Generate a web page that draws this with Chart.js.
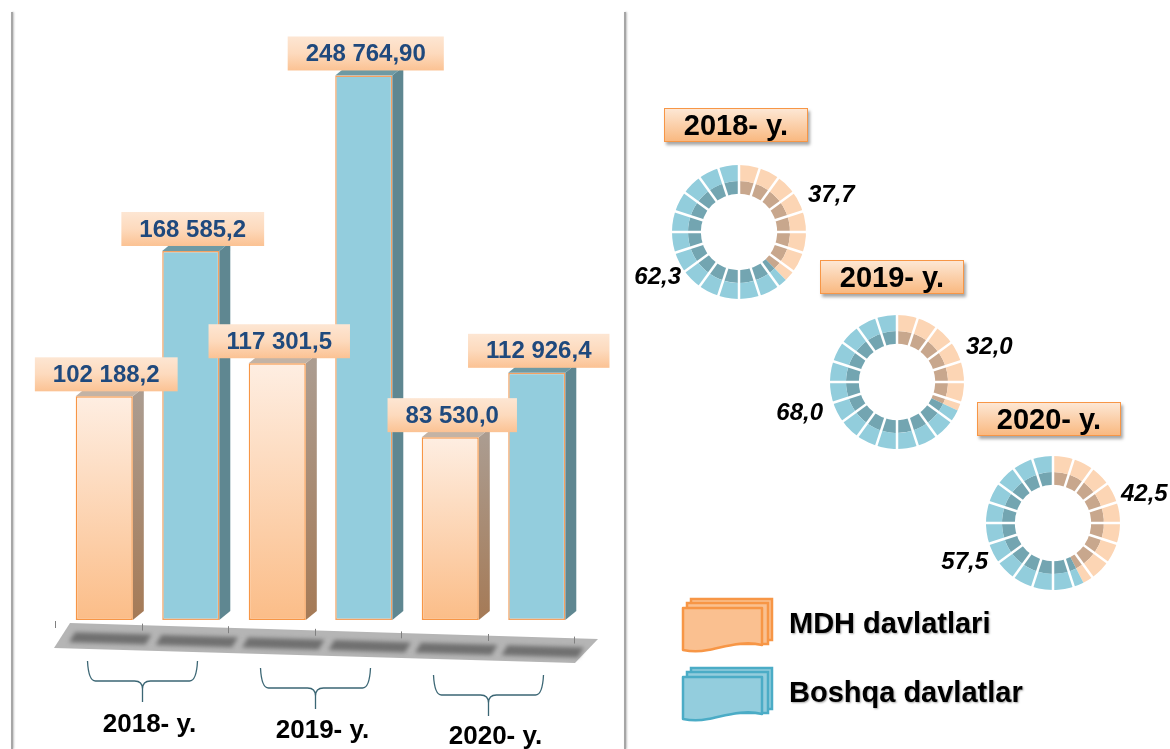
<!DOCTYPE html>
<html>
<head>
<meta charset="utf-8">
<script src="https://cdn.jsdelivr.net/npm/chart.js@4.4.1/dist/chart.umd.min.js"></script>
<style>
  body { margin: 0; width: 1170px; height: 749px; overflow: hidden; background: #fff; position: relative;
         font-family: Arial, "Liberation Sans", sans-serif; }
  .vline { position: absolute; top: 12px; bottom: 0; width: 2px; background: #a6a6a6; box-shadow: 1px 0 2px rgba(0,0,0,.25); }
  .yearbox { position: absolute; width: 142px; height: 32px; border: 1.5px solid #f79646;
             background: linear-gradient(#fde7d4, #f9b981); box-shadow: 2px 3px 3px rgba(0,0,0,.35);
             font-weight: bold; font-size: 29px; line-height: 33px; text-align: center; color: #000; }
  .legtext { position: absolute; left: 789px; font-weight: bold; font-size: 29px; line-height: 34px;
             text-shadow: 1px 1px 2px rgba(0,0,0,.35); white-space: nowrap; }
  canvas { position: absolute; }
</style>
</head>
<body>
<div class="vline" style="left:11px"></div>
<div class="vline" style="left:624px"></div>
<canvas id="bars" width="640" height="749" style="left:0;top:0"></canvas>
<div id="right"></div>

<script>
const years = ['2018- y.', '2019- y.', '2020- y.']
const seriesNames = ['MDH davlatlari', 'Boshqa davlatlar']
const mdhValues = [102188.2, 117301.5, 83530.0]
const otherValues = [168585.2, 248764.90, 112926.4]
const mdhDecimals = [1, 1, 1]
const otherDecimals = [1, 2, 1]
const mdhShare = [37.7, 32.0, 42.5]
const otherShare = [62.3, 68.0, 57.5]

const DX = 11, DY = 9

function fmt(v, d) {
  const parts = v.toFixed(d).split('.')
  parts[0] = parts[0].replace(/\B(?=(\d{3})+(?!\d))/g, ' ')
  return parts.join(',')
}

function orangeFront(c) {
  const chart = c.chart
  if (!chart.chartArea) return '#fbc08e'
  const y = chart.scales.y
  const g = chart.ctx.createLinearGradient(0, y.getPixelForValue(c.raw), 0, y.getPixelForValue(0))
  g.addColorStop(0, '#feeee2')
  g.addColorStop(1, '#fbbd88')
  return g
}

// floor, ticks, side and top faces of the bars
const bar3d = {
  id: 'bar3d',
  beforeDatasetsDraw(chart) {
    const ctx = chart.ctx, a = chart.chartArea
    const base = chart.scales.y.getPixelForValue(0)
    const tilt = 0.03
    const slot = (a.right - a.left) / 6
    ctx.save()
    ctx.fillStyle = '#b5b5b5'
    ctx.beginPath()
    ctx.moveTo(a.left + 9, base + 3)
    ctx.lineTo(a.right + 18, base + 19)
    ctx.lineTo(a.right - 5, base + 43)
    ctx.lineTo(a.left - 7, base + 28)
    ctx.closePath()
    ctx.fill()

    ctx.fillStyle = '#707070'
    ctx.filter = 'blur(2px)'
    for (let i = 0; i < 6; i++) {
      const l = a.left + i * slot + 10, r = l + slot - 10
      const yl = base + 12 + tilt * (l - a.left), yr = base + 12 + tilt * (r - a.left)
      ctx.beginPath()
      ctx.moveTo(l + 4, yl); ctx.lineTo(r + 4, yr)
      ctx.lineTo(r - 2, yr + 10); ctx.lineTo(l - 2, yl + 10)
      ctx.closePath(); ctx.fill()
    }
    ctx.filter = 'none'

    ctx.strokeStyle = '#808080'
    ctx.lineWidth = 1
    for (let i = 0; i <= 6; i++) {
      const tx = Math.round(a.left + i * slot - 6) + 0.5
      const ty = base + 1 + tilt * (tx - a.left + 6)
      ctx.beginPath(); ctx.moveTo(tx, ty); ctx.lineTo(tx, ty + 7); ctx.stroke()
    }

    chart.data.datasets.forEach((ds, di) => {
      const meta = chart.getDatasetMeta(di)
      meta.data.forEach(el => {
        const { x, y, width } = el.getProps(['x', 'y', 'width'], true)
        const l = x - width / 2, r = x + width / 2
        let side
        if (di === 0) {
          side = ctx.createLinearGradient(0, y, 0, base)
          side.addColorStop(0, '#ab9c90'); side.addColorStop(1, '#a57a56')
        } else side = '#5f8791'
        ctx.fillStyle = side
        ctx.beginPath()
        ctx.moveTo(r, y); ctx.lineTo(r + DX, y - DY); ctx.lineTo(r + DX, base - DY); ctx.lineTo(r, base)
        ctx.closePath(); ctx.fill()
        ctx.fillStyle = di === 0 ? '#c3b3a5' : '#6e9aa4'
        ctx.beginPath()
        ctx.moveTo(l, y); ctx.lineTo(l + DX, y - DY); ctx.lineTo(r + DX, y - DY); ctx.lineTo(r, y)
        ctx.closePath(); ctx.fill()
      })
    })
    ctx.restore()
  },
  afterDatasetsDraw(chart) {
    const ctx = chart.ctx
    ctx.save()
    ctx.font = 'bold 24px Arial, "Liberation Sans"'
    ctx.textAlign = 'center'
    ctx.textBaseline = 'middle'
    const decs = [mdhDecimals, otherDecimals]
    chart.data.datasets.forEach((ds, di) => {
      chart.getDatasetMeta(di).data.forEach((el, i) => {
        const txt = fmt(ds.data[i], decs[di][i])
        const w = ctx.measureText(txt).width + 36, h = 34
        const cx = el.x + 2, bottom = el.y - 5
        const g = ctx.createLinearGradient(0, bottom - h, 0, bottom)
        g.addColorStop(0, '#fde6d3'); g.addColorStop(0.5, '#fddabd'); g.addColorStop(1, '#fbc293')
        ctx.fillStyle = g
        ctx.fillRect(cx - w / 2, bottom - h, w, h)
        ctx.fillStyle = '#1f497d'
        ctx.fillText(txt, cx, bottom - h / 2 + 1)
      })
    })
    ctx.restore()
  },
  afterDraw(chart) {
    const ctx = chart.ctx, xs = chart.scales.x
    ctx.save()
    ctx.strokeStyle = '#3b6674'
    ctx.lineWidth = 1.3
    ctx.font = 'bold 26px Arial, "Liberation Sans"'
    ctx.textAlign = 'center'
    ctx.textBaseline = 'middle'
    ctx.fillStyle = '#000'
    years.forEach((yr, i) => {
      const c = xs.getPixelForValue(i) - 5, y0 = 661 + i * 7, hw = 55
      ctx.beginPath()
      for (const s of [-1, 1]) {
        ctx.moveTo(c + s * hw, y0)
        ctx.quadraticCurveTo(c + s * (hw - 1), y0 + 20, c + s * (hw - 8), y0 + 20)
        ctx.lineTo(c + s * 8, y0 + 20)
        ctx.quadraticCurveTo(c, y0 + 20, c, y0 + 28)
        ctx.lineTo(c, y0 + 41)
      }
      ctx.stroke()
      ctx.fillText(yr, xs.getPixelForValue(i) + 2, 725 + i * 6)
    })
    ctx.restore()
  }
}

new Chart(document.getElementById('bars'), {
  type: 'bar',
  data: {
    labels: years,
    datasets: [
      { label: seriesNames[0], data: mdhValues, backgroundColor: orangeFront, borderColor: '#f79646' },
      { label: seriesNames[1], data: otherValues, backgroundColor: '#93cddd', borderColor: '#f5a262' }
    ]
  },
  options: {
    responsive: false,
    animation: false,
    events: [],
    layout: { padding: { left: 61, right: 60, top: 29, bottom: 129 } },
    datasets: { bar: { categoryPercentage: 1, barPercentage: 0.66, borderWidth: 1.5, borderSkipped: false } },
    scales: {
      x: { display: false },
      y: { display: false, min: 0, max: 270000 }
    },
    plugins: { legend: { display: false }, tooltip: { enabled: false } }
  },
  plugins: [bar3d]
})

// doughnuts
const donutCenters = [[739, 232], [897, 382], [1053, 523]]
const rightLabelAt = [[69, -37], [69, -35], [68, -29]]
const leftLabelAt = [[-58, 45], [-74, 31], [-65, 39]]
const yearBoxAt = [[664, 108], [820, 260], [977, 402]]

const ringLines = {
  id: 'ringLines',
  afterDatasetsDraw(chart, args, opts) {
    const ctx = chart.ctx
    const outerArc = chart.getDatasetMeta(0).data[0]
    const innerArc = chart.getDatasetMeta(1).data[0]
    const cx = outerArc.x, cy = outerArc.y
    const r0 = innerArc.innerRadius - 1, r1 = outerArc.outerRadius + 1
    ctx.save()
    ctx.strokeStyle = '#fff'
    ctx.lineWidth = 2.5
    for (let k = 0; k < 20; k++) {
      const ang = -Math.PI / 2 + k * Math.PI / 10
      ctx.beginPath()
      ctx.moveTo(cx + r0 * Math.cos(ang), cy + r0 * Math.sin(ang))
      ctx.lineTo(cx + r1 * Math.cos(ang), cy + r1 * Math.sin(ang))
      ctx.stroke()
    }
    const d = chart.data.datasets[0].data
    ctx.font = 'italic bold 24px Arial, "Liberation Sans"'
    ctx.fillStyle = '#000'
    ctx.textBaseline = 'middle'
    ctx.textAlign = 'left'
    ctx.fillText(d[0].toFixed(1).replace('.', ','), cx + opts.right[0], cy + opts.right[1])
    ctx.textAlign = 'right'
    ctx.fillText(d[1].toFixed(1).replace('.', ','), cx + opts.left[0], cy + opts.left[1])
    ctx.restore()
  }
}

const right = document.getElementById('right')
years.forEach((yr, i) => {
  const cv = document.createElement('canvas')
  cv.width = 260; cv.height = 180
  cv.style.left = (donutCenters[i][0] - 130) + 'px'
  cv.style.top = (donutCenters[i][1] - 90) + 'px'
  right.appendChild(cv)
  const vals = [mdhShare[i], otherShare[i]]
  new Chart(cv, {
    type: 'doughnut',
    data: {
      labels: seriesNames,
      datasets: [
        { data: vals, backgroundColor: ['#fcd5b4', '#92cddc'], borderWidth: 0, weight: 1.25 },
        { data: vals, backgroundColor: ['#c8a78d', '#73a5b1'], borderWidth: 0, weight: 1 }
      ]
    },
    options: {
      responsive: false,
      animation: false,
      events: [],
      cutout: '57%',
      layout: { padding: { left: 63, right: 63, top: 23, bottom: 23 } },
      plugins: {
        legend: { display: false },
        tooltip: { enabled: false },
        ringLines: { right: rightLabelAt[i], left: leftLabelAt[i] }
      }
    },
    plugins: [ringLines]
  })
})

years.forEach((yr, i) => {
  const b = document.createElement('div')
  b.className = 'yearbox'
  b.style.left = yearBoxAt[i][0] + 'px'
  b.style.top = yearBoxAt[i][1] + 'px'
  b.textContent = yr
  right.appendChild(b)
})

// legend
const legendColors = [['#fac090', '#f79646'], ['#93cddd', '#4bacc6']]
const legendTop = [595, 664]
seriesNames.forEach((name, i) => {
  const [fill, stroke] = legendColors[i]
  const svg = document.createElementNS('http://www.w3.org/2000/svg', 'svg')
  svg.setAttribute('width', 100); svg.setAttribute('height', 62)
  svg.style.position = 'absolute'
  svg.style.left = '676px'
  svg.style.top = legendTop[i] + 'px'
  svg.innerHTML =
    `<rect x="15" y="4" width="81" height="41" fill="${fill}" stroke="${stroke}" stroke-width="2.5"/>` +
    `<rect x="11" y="8" width="81" height="41" fill="${fill}" stroke="${stroke}" stroke-width="2.5"/>` +
    `<path d="M7,13 L86,13 L86,50 C68,45 48,52 32,55 C22,57 12,56 7,55 Z" fill="${fill}" stroke="${stroke}" stroke-width="2.5" stroke-linejoin="round"/>`
  right.appendChild(svg)
  const t = document.createElement('div')
  t.className = 'legtext'
  t.style.top = (legendTop[i] + 11) + 'px'
  t.textContent = name
  right.appendChild(t)
})
</script>
</body>
</html>
